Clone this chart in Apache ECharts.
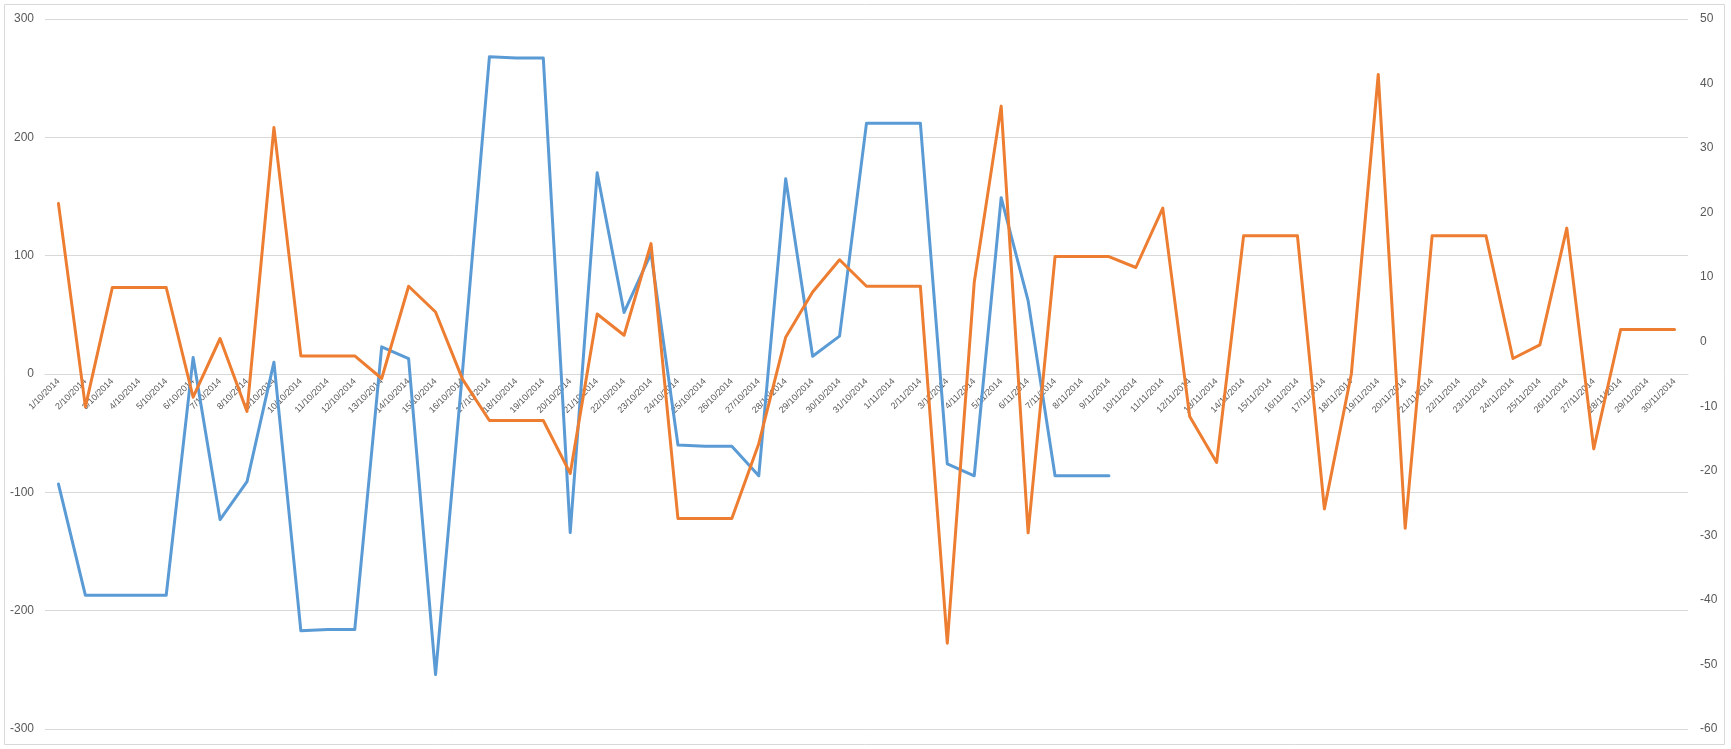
<!DOCTYPE html>
<html>
<head>
<meta charset="utf-8">
<script src="https://cdn.jsdelivr.net/npm/echarts@6/dist/echarts.min.js"></script>
<style>
html,body{margin:0;padding:0;background:#fff;}
#chart{width:1731px;height:749px;}
</style>
</head>
<body>
<div id="chart"></div>
<script>
// Categories: daily dates 1/10/2014 .. 30/11/2014
const categories = [
  '1/10/2014','2/10/2014','3/10/2014','4/10/2014','5/10/2014','6/10/2014','7/10/2014','8/10/2014','9/10/2014','10/10/2014',
  '11/10/2014','12/10/2014','13/10/2014','14/10/2014','15/10/2014','16/10/2014','17/10/2014','18/10/2014','19/10/2014','20/10/2014',
  '21/10/2014','22/10/2014','23/10/2014','24/10/2014','25/10/2014','26/10/2014','27/10/2014','28/10/2014','29/10/2014','30/10/2014',
  '31/10/2014','1/11/2014','2/11/2014','3/11/2014','4/11/2014','5/11/2014','6/11/2014','7/11/2014','8/11/2014','9/11/2014',
  '10/11/2014','11/11/2014','12/11/2014','13/11/2014','14/11/2014','15/11/2014','16/11/2014','17/11/2014','18/11/2014','19/11/2014',
  '20/11/2014','21/11/2014','22/11/2014','23/11/2014','24/11/2014','25/11/2014','26/11/2014','27/11/2014','28/11/2014','29/11/2014',
  '30/11/2014'
];

// Blue series (left axis)
const blueValues = [
  -93, -187, -187, -187, -187, 14, -123, -91, 10, -217,
  -216, -216, 23, 13, -254, 2, 268, 267, 267, -134,
  170, 52, 102, -60, -61, -61, -86, 165, 15, 32,
  212, 212, 212, -76, -86, 149, 62, -86, -86, -86,
  null, null, null, null, null, null, null, null, null, null,
  null, null, null, null, null, null, null, null, null, null,
  null
];

// Orange series (right axis)
const orangeValues = [
  21.4, -10.1, 8.4, 8.4, 8.4, -8.6, 0.5, -10.8, 33.2, -2.2,
  -2.2, -2.2, -5.7, 8.6, 4.6, -5.8, -12.2, -12.2, -12.2, -20.4,
  4.3, 1.0, 15.2, -27.4, -27.4, -27.4, -15.8, 0.7, 7.7, 12.7,
  8.6, 8.6, 8.6, -46.7, 9.2, 36.5, -29.6, 13.2, 13.2, 13.2,
  11.5, 20.7, -11.6, -18.7, 16.4, 16.4, 16.4, -25.9, -5.0, 41.4,
  -28.9, 16.4, 16.4, 16.4, -2.6, -0.5, 17.6, -16.6, 1.9, 1.9,
  1.9
];

// Axis settings
const leftAxis = { min: -300, max: 300, interval: 100 };
const rightAxis = { min: -60, max: 50, interval: 10 };

const gridTop = 19, gridBottom = 20, chartH = 749;
const plotH = chartH - gridTop - gridBottom;
// distance from bottom edge of plot up to the left-axis zero line
const zeroOffset = plotH * (0 - leftAxis.min) / (leftAxis.max - leftAxis.min);

const chart = echarts.init(document.getElementById('chart'), null, { renderer: 'canvas' });
const font = "'Liberation Sans', Arial, sans-serif";
chart.setOption({
  animation: false,
  backgroundColor: '#ffffff',
  graphic: [{
    type: 'rect',
    shape: { x: 4.5, y: 4.5, width: 1720, height: 740 },
    style: { fill: 'none', stroke: '#D9D9D9', lineWidth: 1 },
    silent: true
  }],
  grid: { left: 45, right: 43, top: gridTop, bottom: gridBottom, containLabel: false },
  xAxis: {
    type: 'category',
    data: categories,
    boundaryGap: true,
    position: 'bottom',
    offset: -zeroOffset,
    axisLine: { show: true, onZero: false, lineStyle: { color: '#D9D9D9', width: 1 } },
    axisTick: { show: false },
    axisLabel: {
      interval: 0,
      rotate: 45,
      fontSize: 9,
      color: '#595959',
      fontFamily: font,
      margin: 6
    },
    splitLine: { show: false }
  },
  yAxis: [
    {
      type: 'value',
      position: 'left',
      min: leftAxis.min, max: leftAxis.max, interval: leftAxis.interval,
      axisLine: { show: false },
      axisTick: { show: false },
      axisLabel: { color: '#595959', fontSize: 12, fontFamily: font, margin: 11 },
      splitLine: { show: true, lineStyle: { color: '#D9D9D9', width: 1 } }
    },
    {
      type: 'value',
      position: 'right',
      min: rightAxis.min, max: rightAxis.max, interval: rightAxis.interval,
      axisLine: { show: false },
      axisTick: { show: false },
      axisLabel: { color: '#595959', fontSize: 12, fontFamily: font, margin: 12 },
      splitLine: { show: false }
    }
  ],
  series: [
    {
      type: 'line',
      yAxisIndex: 0,
      data: blueValues,
      showSymbol: false,
      symbol: 'none',
      connectNulls: false,
      lineStyle: { color: '#5B9BD5', width: 3, join: 'round', cap: 'round' },
      itemStyle: { color: '#5B9BD5' }
    },
    {
      type: 'line',
      yAxisIndex: 1,
      data: orangeValues,
      showSymbol: false,
      symbol: 'none',
      lineStyle: { color: '#ED7D31', width: 3, join: 'round', cap: 'round' },
      itemStyle: { color: '#ED7D31' }
    }
  ]
});
</script>
</body>
</html>
